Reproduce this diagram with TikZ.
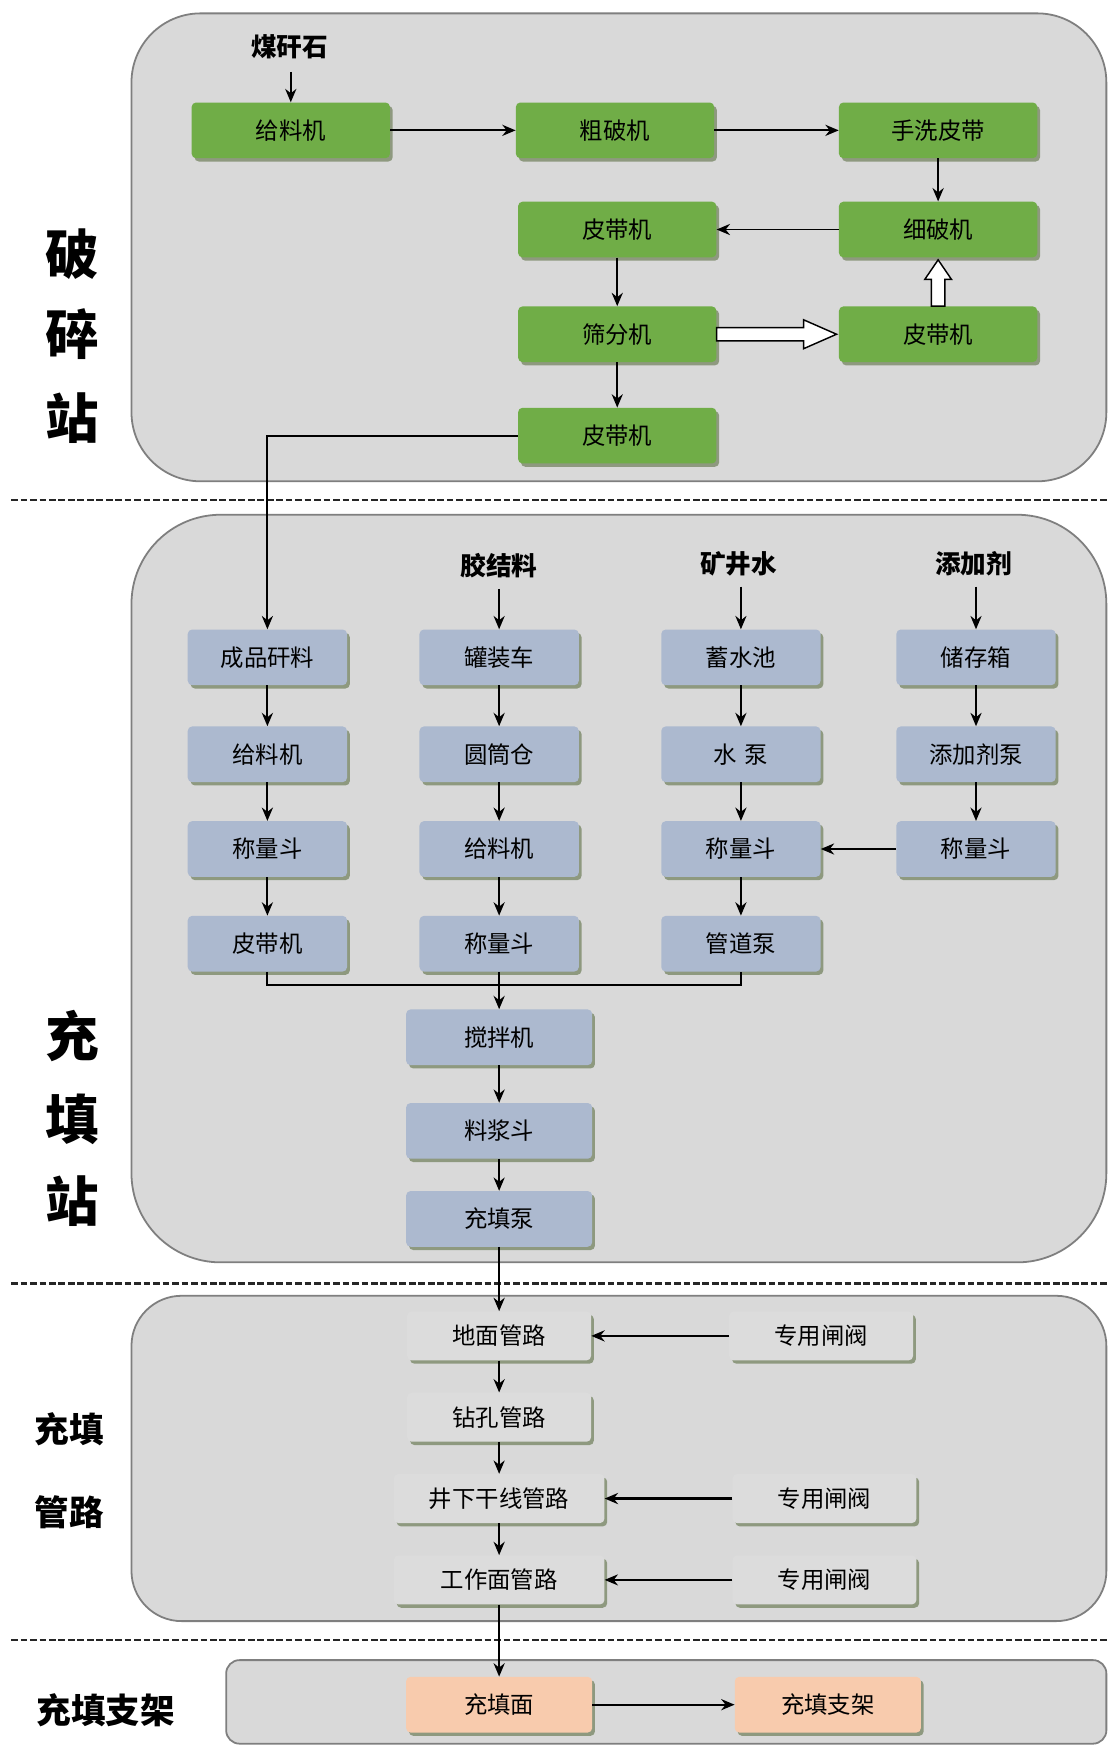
\documentclass[tikz,border=0pt]{standalone}
\usepackage{fontspec}
\setmainfont{Noto Sans CJK SC}
\usetikzlibrary{shadows,calc,arrows.meta}
\definecolor{secfill}{HTML}{D9D9D9}
\definecolor{secline}{HTML}{7F7F7F}
\definecolor{gfill}{HTML}{70AD47}
\definecolor{bfill}{HTML}{ACB9CF}
\definecolor{ofill}{HTML}{F8CBAD}
\definecolor{pfill}{HTML}{DCDCDC}
\definecolor{shd}{HTML}{6F7F5A}
\begin{document}
\begin{tikzpicture}[x=1pt,y=-1pt,
  sect/.style={draw=secline,line width=1.6pt,fill=secfill},
  base/.style={rounded corners=4pt,minimum height=50pt,inner sep=2pt,
     font=\fontsize{21}{25}\selectfont,
     drop shadow={shadow xshift=2.5pt,shadow yshift=-3pt,fill=shd,opacity=0.7}},
  gbox/.style={base,fill=gfill,minimum width=178pt},
  bbox/.style={base,fill=bfill,minimum width=143pt},
  mbox/.style={base,fill=bfill,minimum width=167pt},
  pbox/.style={base,fill=pfill,minimum height=44pt,minimum width=165pt},
  obox/.style={base,fill=ofill,minimum width=167pt},
  hdr/.style={font=\fontsize{23}{27}\selectfont\bfseries},
  big/.style={font=\fontsize{48}{52}\selectfont\bfseries},
  mid/.style={font=\fontsize{31}{35}\selectfont\bfseries},
  arr/.style={line width=1.7pt,-{Stealth[length=12pt,width=10pt]}},
  line/.style={line width=1.7pt},
  hollow/.style={draw=black,line width=1.3pt,fill=white},
  sep/.style={line width=2pt,dash pattern=on 6pt off 2.5pt,black!85}]
\useasboundingbox (0,0) rectangle (995,1568);
\fill[white] (0,0) rectangle (995,1568);

% ---------- sections ----------
\draw[sect,rounded corners=62pt] (118,12) rectangle (993,432);
\draw[sect,rounded corners=80pt] (118,462) rectangle (993,1133);
\draw[sect,rounded corners=45pt] (118,1163) rectangle (993,1455);
\draw[sect,rounded corners=12pt] (203,1490) rectangle (993,1565);

\draw[sep] (10,449) -- (995,449);
\draw[sep] (10,1152) -- (995,1152);
\draw[sep] (10,1472) -- (995,1472);

% ---------- side labels ----------
\node[big] (L1) at (65,228) {破};
\node[big] (L2) at (65,300) {碎};
\node[big] (L3) at (65,375) {站};
\node[big] (L4) at (65,930) {充};
\node[big] (L5) at (65,1005) {填};
\node[big] (L6) at (65,1078) {站};
\node[mid] (L7) at (62,1283) {充填};
\node[mid] (L8) at (62,1357) {管路};
\node[mid] (L9) at (95,1535) {充填支架};

% ---------- crushing station ----------
\node[hdr] (mgs) at (260,42) {煤矸石};
\node[gbox] (f1) at (261,117) {给料机};
\node[gbox] (c1) at (552,117) {粗破机};
\node[gbox] (sx) at (842,117) {手洗皮带};
\node[gbox] (p1) at (554,206) {皮带机};
\node[gbox] (xp) at (842,206) {细破机};
\node[gbox] (sf) at (554,300) {筛分机};
\node[gbox] (p2) at (842,300) {皮带机};
\node[gbox] (p3) at (554,391) {皮带机};

\draw[arr] ($(mgs.south -| f1.north)+(0,8)$) -- (f1.north);
\draw[arr] (f1.east) -- (c1.west);
\draw[arr] (c1.east) -- (sx.west);
\draw[arr] (sx.south) -- (xp.north);
\draw[arr] (xp.west) -- (p1.east);
\draw[arr] (p1.south) -- (sf.north);
\draw[arr] (sf.south) -- (p3.north);
% hollow arrows
\draw[hollow] ($(sf.east)+(0,-6)$) -- ($(sf.east)+(78,-6)$) -- ($(sf.east)+(78,-13)$)
   -- ($(p2.west)+(-2,0)$) -- ($(sf.east)+(78,13)$) -- ($(sf.east)+(78,6)$)
   -- ($(sf.east)+(0,6)$) -- cycle;
\draw[hollow] ($(p2.north)+(-6,0)$) -- ($(p2.north)+(-6,-24)$) -- ($(p2.north)+(-12,-24)$)
   -- ($(xp.south)+(0,2)$) -- ($(p2.north)+(12,-24)$) -- ($(p2.north)+(6,-24)$)
   -- ($(p2.north)+(6,0)$) -- cycle;

% ---------- filling station ----------
\node[hdr] (hj) at (448,508) {胶结料};
\node[hdr] (hk) at (663,506) {矿井水};
\node[hdr] (ht) at (874,506) {添加剂};

\node[bbox] (a1) at (240,590) {成品矸料};
\node[bbox] (a2) at (240,677) {给料机};
\node[bbox] (a3) at (240,762) {称量斗};
\node[bbox] (a4) at (240,847) {皮带机};
\node[bbox] (b1) at (448,590) {罐装车};
\node[bbox] (b2) at (448,677) {圆筒仓};
\node[bbox] (b3) at (448,762) {给料机};
\node[bbox] (b4) at (448,847) {称量斗};
\node[bbox] (w1) at (665,590) {蓄水池};
\node[bbox] (w2) at (665,677) {水\,\,泵};
\node[bbox] (w3) at (665,762) {称量斗};
\node[bbox] (w4) at (665,847) {管道泵};
\node[bbox] (t1) at (876,590) {储存箱};
\node[bbox] (t2) at (876,677) {添加剂泵};
\node[bbox] (t3) at (876,762) {称量斗};
\node[mbox] (mix) at (448,931) {搅拌机};
\node[mbox] (lj) at (448,1015) {料浆斗};
\node[mbox] (cb) at (448,1094) {充填泵};

\draw[arr] (p3.west) -| (a1.north);
\draw[arr] ($(hj.south -| b1.north)+(0,6)$) -- (b1.north);
\draw[arr] ($(hk.south -| w1.north)+(0,6)$) -- (w1.north);
\draw[arr] ($(ht.south -| t1.north)+(0,6)$) -- (t1.north);
\foreach \u/\v in {a1/a2,a2/a3,a3/a4,b1/b2,b2/b3,b3/b4,w1/w2,w2/w3,w3/w4,t1/t2,t2/t3,mix/lj,lj/cb}
  \draw[arr] (\u.south) -- (\v.north);
\draw[arr] (t3.west) -- (w3.east);
\coordinate (mj) at (448,884);
\draw[line] (a4.south) |- (mj) -| (w4.south);
\draw[arr] (b4.south) -- (mix.north);

% ---------- pipeline ----------
\node[pbox] (dm) at (448,1199) {地面管路};
\node[pbox] (zf1) at (737,1199) {专用闸阀};
\node[pbox] (zk) at (448,1272) {钻孔管路};
\node[pbox,minimum width=189pt] (jx) at (448,1345) {井下干线管路};
\node[pbox] (zf2) at (740,1345) {专用闸阀};
\node[pbox,minimum width=189pt] (gz) at (448,1418) {工作面管路};
\node[pbox] (zf3) at (740,1418) {专用闸阀};

\draw[arr,line width=2.2pt] (cb.south) -- (dm.north);
\draw[arr,line width=2.4pt] (zf1.west) -- (dm.east);
\draw[arr] (dm.south) -- (zk.north);
\draw[arr] (zk.south) -- (jx.north);
\draw[arr,line width=2.2pt] (zf2.west) -- (jx.east);
\draw[arr] (jx.south) -- (gz.north);
\draw[arr,line width=1.1pt] (zf3.west) -- (gz.east);

% ---------- supports ----------
\node[obox] (cm) at (448,1530) {充填面};
\node[obox] (cz) at (743,1530) {充填支架};
\draw[arr,line width=2.2pt] (gz.south) -- (cm.north);
\draw[arr] (cm.east) -- (cz.west);
\end{tikzpicture}
\end{document}
